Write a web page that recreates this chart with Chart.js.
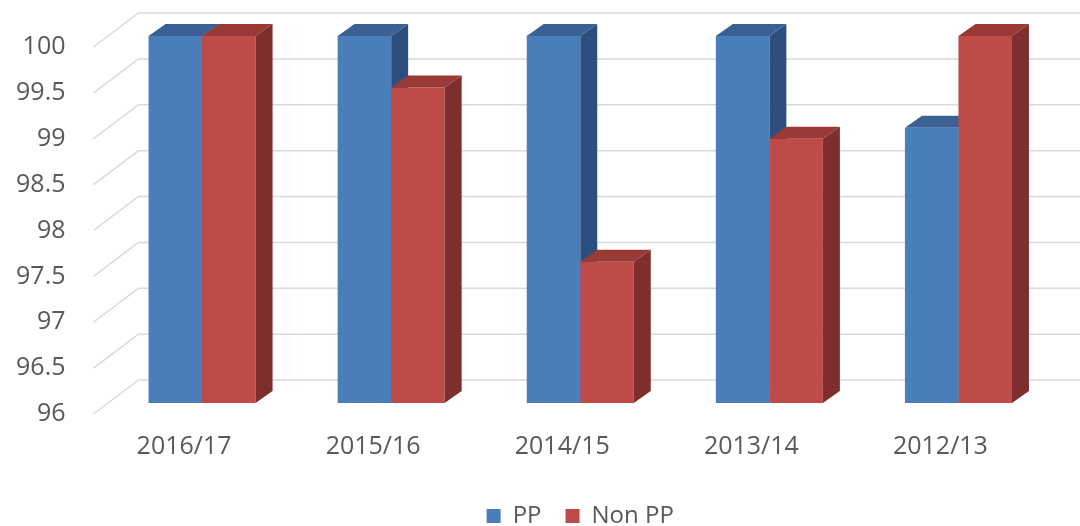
<!DOCTYPE html>
<html>
<head>
<meta charset="utf-8">
<script src="https://cdn.jsdelivr.net/npm/chart.js@4"></script>
<style>
  html, body { margin: 0; padding: 0; background: #fff; }
  canvas { display: block; }
</style>
</head>
<body>
<canvas id="chart" width="1080" height="526"></canvas>
<script>
var years = ['2016/17', '2015/16', '2014/15', '2013/14', '2012/13'];
var ppValues = [100, 100, 100, 100, 99];
var nonPpValues = [100, 99.44, 97.54, 98.88, 100];

var blue = { front: '#4A7EBB', top: '#3A6094', side: '#2D4F7D' };
var red = { front: '#BE4B48', top: '#9A3A37', side: '#7E2E2C' };

// depth of the bars and of the side wall, in pixels
var barDx = 17, barDy = 12;
var wallBack = 31, wallFront = -14, wallUp = 23, wallDown = 11;

function face(ctx, pts, color) {
    ctx.beginPath();
    ctx.moveTo(pts[0][0], pts[0][1]);
    for (var i = 1; i < pts.length; i++) ctx.lineTo(pts[i][0], pts[i][1]);
    ctx.closePath();
    ctx.fillStyle = color;
    ctx.fill();
}

function topAndSide(ctx, bar, b, c) {
    var l = bar.x - bar.width / 2, r = bar.x + bar.width / 2;
    var t = bar.y;
    face(ctx, [[r, t], [r + barDx, t - barDy], [r + barDx, b - barDy], [r, b]], c.side);
    face(ctx, [[l, t], [r, t], [r + barDx, t - barDy], [l + barDx, t - barDy]], c.top);
}

var bars3d = {
    id: 'bars3d',
    beforeDatasetsDraw: function (chart) {
        var ctx = chart.ctx, y = chart.scales.y, area = chart.chartArea;
        ctx.save();
        ctx.strokeStyle = '#D9D9D9';
        ctx.lineWidth = 1.5;
        y.ticks.forEach(function (t) {
            var py = y.getPixelForValue(t.value);
            ctx.beginPath();
            ctx.moveTo(area.left + wallFront, py + wallDown);
            ctx.lineTo(area.left + wallBack, py - wallUp);
            ctx.lineTo(chart.width, py - wallUp);
            ctx.stroke();
        });
        // blue tops and sides go behind everything in front of them
        chart.getDatasetMeta(0).data.forEach(function (bar) {
            topAndSide(ctx, bar, area.bottom, blue);
        });
        ctx.restore();
    },
    afterDatasetsDraw: function (chart) {
        var ctx = chart.ctx;
        ctx.save();
        chart.getDatasetMeta(1).data.forEach(function (bar) {
            topAndSide(ctx, bar, chart.chartArea.bottom, red);
        });
        ctx.restore();
    }
};

new Chart(document.getElementById('chart').getContext('2d'), {
    type: 'bar',
    data: {
        labels: years,
        datasets: [{
            label: 'PP',
            data: ppValues,
            backgroundColor: blue.front,
            borderWidth: 0
        }, {
            label: 'Non PP',
            data: nonPpValues,
            backgroundColor: red.front,
            borderWidth: 0
        }]
    },
    options: {
        responsive: false,
        animation: false,
        devicePixelRatio: 1,
        layout: { padding: { top: 36, right: 27, left: 0, bottom: -12 } },
        datasets: { bar: { barPercentage: 1, categoryPercentage: 0.566 } },
        scales: {
            y: {
                min: 96,
                max: 100,
                ticks: {
                    stepSize: 0.5,
                    padding: 42,
                    labelOffset: 11,
                    color: '#595959',
                    font: { family: 'Open Sans', size: 25 },
                    callback: function (v) { return String(v); }
                },
                grid: { display: false, drawTicks: false },
                border: { display: false },
                afterFit: function (s) {
                    s.width = 107.5;
                    s.paddingTop = 0;
                    s.paddingBottom = 0;
                }
            },
            x: {
                ticks: {
                    padding: 29,
                    labelOffset: -18,
                    color: '#595959',
                    font: { family: 'Open Sans', size: 25 }
                },
                grid: { display: false, drawTicks: false },
                border: { display: false },
                afterFit: function (s) { s.height = 77; }
            }
        },
        plugins: {
            legend: {
                position: 'bottom',
                fullSize: false,
                labels: {
                    boxWidth: 14,
                    boxHeight: 14,
                    padding: 24,
                    color: '#595959',
                    font: { family: 'Open Sans', size: 24 }
                }
            },
            tooltip: { enabled: false }
        }
    },
    plugins: [bars3d]
});
</script>
</body>
</html>
